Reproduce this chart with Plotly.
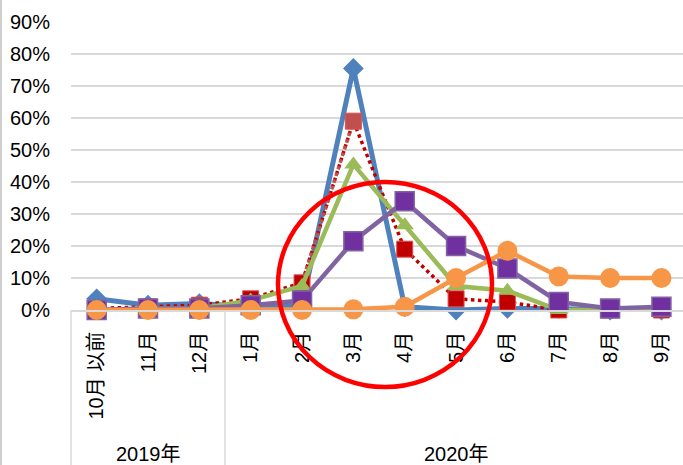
import plotly.graph_objects as go

months = ["10月 以前", "11月", "12月", "1月", "2月", "3月", "4月", "5月", "6月", "7月", "8月", "9月"]
years = ["2019年", "2020年"]
year_sizes = [3, 9]

blue = [3.5, 1.5, 2.0, 1.0, 1.5, 75.5, 1.0, 0.0, 0.5, 0.5, 0.0, 0.0]
red = [0.5, 1.0, 1.5, 3.5, 8.5, 59.0, 19.0, 3.5, 2.5, 0.0, 0.0, 0.0]
green = [0.0, 0.5, 0.5, 3.0, 7.5, 45.5, 26.5, 7.5, 6.0, 0.0, 0.0, 0.0]
purple = [0.0, 0.5, 0.5, 1.5, 3.0, 21.5, 34.0, 20.0, 13.0, 2.5, 0.5, 1.0]
orange = [0.0, 0.0, 0.0, 0.0, 0.0, 0.2, 1.0, 10.0, 18.5, 10.5, 10.0, 10.0]

y_ticks = [0, 10, 20, 30, 40, 50, 60, 70, 80, 90]
y_ticktext = [f"{v}%" for v in y_ticks]

xs = list(range(len(months)))
FONT = "Liberation Sans, Arial, Noto Sans CJK JP, sans-serif"

fig = go.Figure()

fig.add_trace(go.Scatter(
    x=xs, y=blue, mode="lines+markers", cliponaxis=False,
    line=dict(color="#4F81BD", width=5),
    marker=dict(symbol="diamond", size=16, color="#4F81BD"),
))
fig.add_trace(go.Scatter(
    x=xs, y=red, mode="lines+markers", cliponaxis=False,
    line=dict(color="#C00000", width=3.5, dash="dot"),
    marker=dict(symbol="square", size=16,
                color=["#C0504D" if m == "3月" else "#C00000" for m in months],
                line=dict(color="#E05050", width=1)),
))
# lighter segment rising into March
fig.add_trace(go.Scatter(
    x=xs[4:6], y=red[4:6], mode="lines", cliponaxis=False,
    line=dict(color="#C0504D", width=3.5, dash="dot"),
))
fig.add_trace(go.Scatter(
    x=xs, y=green, mode="lines+markers", cliponaxis=False,
    line=dict(color="#9BBB59", width=4.5),
    marker=dict(symbol="triangle-up", size=16, color="#9BBB59"),
))
fig.add_trace(go.Scatter(
    x=xs, y=purple, mode="lines+markers", cliponaxis=False,
    line=dict(color="#8064A2", width=4.5),
    marker=dict(symbol="square", size=19, color="#7030A0",
                line=dict(color="#8064A2", width=1.5)),
))
fig.add_trace(go.Scatter(
    x=xs, y=orange, mode="lines+markers", cliponaxis=False,
    line=dict(color="#F79646", width=4.5),
    marker=dict(symbol="circle", size=20, color="#F79646"),
))

# plot-area geometry in pixels (for paper-referenced decorations)
L, R, T, B = 71, 0, 22, 155
W, H = 683, 465
pw, ph = W - L - R, H - T - B
x_lo, x_hi = -0.5, 11.42

def xpaper(v):
    return (v - x_lo) / (x_hi - x_lo)

shapes = []
# category group dividers
edges = [-0.5]
for s in year_sizes:
    edges.append(edges[-1] + s)
for e in edges:
    if e <= x_hi:
        shapes.append(dict(type="line", xref="paper", yref="paper",
                           x0=xpaper(e), x1=xpaper(e), y0=0, y1=-(B / ph),
                           line=dict(color="#D9D9D9", width=1.5)))
# chart border on left
shapes.append(dict(type="line", xref="paper", yref="paper",
                   x0=(1 - L) / pw, x1=(1 - L) / pw, y0=-(B / ph), y1=T / ph + 1,
                   line=dict(color="#BFBFBF", width=1.5)))
# red highlight circle
cx0, cx1, cy0, cy1 = 278, 492, 182, 387
shapes.append(dict(type="circle", xref="paper", yref="paper", layer="above",
                   x0=(cx0 - L) / pw, x1=(cx1 - L) / pw,
                   y0=(H - B - cy1) / ph, y1=(H - B - cy0) / ph,
                   line=dict(color="#FF0000", width=4.5)))

annotations = []
start = 0
for yr, s in zip(years, year_sizes):
    center = start + (s - 1) / 2
    if yr == years[-1]:
        center = (start - 0.5 + 11.5) / 2
    annotations.append(dict(text=yr, x=center, xref="x", y=-(454 - (H - B)) / ph,
                            yref="paper", showarrow=False, yanchor="middle",
                            font=dict(family=FONT, size=20, color="#000000")))
    start += s

fig.update_layout(
    width=W, height=H,
    margin=dict(l=L, r=R, t=T, b=B, pad=0, autoexpand=False),
    plot_bgcolor="white", paper_bgcolor="white",
    showlegend=False,
    font=dict(family=FONT, size=20, color="#000000"),
    xaxis=dict(range=[x_lo, x_hi], tickmode="array", tickvals=xs, ticktext=months,
               tickangle=-90, showgrid=False, zeroline=False, automargin=False,
               showline=True, linecolor="#D9D9D9", linewidth=1.5, ticks="",
               ticklabelstandoff=12),
    yaxis=dict(range=[0, 90], tickmode="array", tickvals=y_ticks, ticktext=y_ticktext,
               showgrid=True, gridcolor="#D9D9D9", gridwidth=1.5, automargin=False,
               zeroline=False, showline=False, ticks="", ticklabelstandoff=20),
    shapes=shapes, annotations=annotations,
)

fig.write_html("out.html", config={"displayModeBar": False},
               post_script="document.body.style.margin='0';document.body.style.padding='0';")
